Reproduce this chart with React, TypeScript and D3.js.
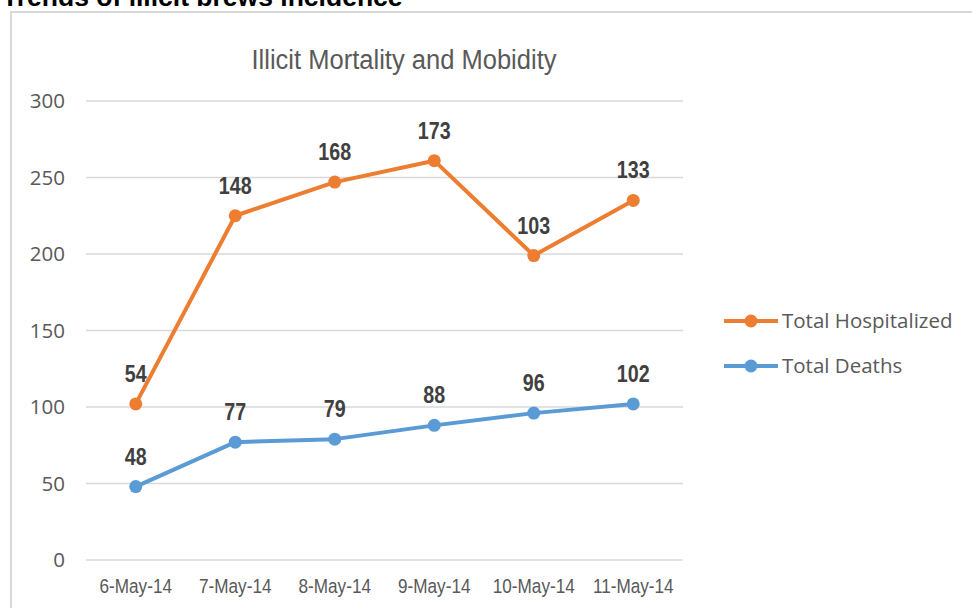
import React from "react";
import * as d3 from "d3";

// chart values
const dates = ["6-May-14", "7-May-14", "8-May-14", "9-May-14", "10-May-14", "11-May-14"];
const totalDeaths = [48, 77, 79, 88, 96, 102];
const totalHospitalized = [54, 148, 168, 173, 103, 133];
const yTicks = [0, 50, 100, 150, 200, 250, 300];

const W = 972;
const H = 608;
const margin = { left: 86, right: 683, top: 101, bottom: 560 };

const orange = "#ED7D31";
const blue = "#5B9BD5";
const sans = "'Liberation Sans', Arial, sans-serif";
const ui = "'Open Sans', 'Noto Sans', sans-serif";

const App = () => {
  const rows = dates.map((d, i) => ({ date: d, deaths: totalDeaths[i], hosp: totalHospitalized[i] }));
  // lines are stacked: hospitalized sits on top of deaths
  const stacked = d3.stack<any>().keys(["deaths", "hosp"])(rows);

  const x = d3.scaleBand().domain(dates).range([margin.left, margin.right]);
  const y = d3.scaleLinear().domain([0, 300]).range([margin.bottom, margin.top]);
  const cx = (d: string) => (x(d) as number) + x.bandwidth() / 2;

  const lineGen = d3
    .line<any>()
    .x((p) => cx(p.data.date))
    .y((p) => y(p[1]));

  const series = [
    { name: "Total Deaths", color: blue, layer: stacked[0], raw: totalDeaths },
    { name: "Total Hospitalized", color: orange, layer: stacked[1], raw: totalHospitalized },
  ];
  const legend = [series[1], series[0]];

  return (
    <svg
      width={W}
      height={H}
      style={{ position: "absolute", left: 0, top: 0, background: "#fff" }}
    >
      <text x={2} y={6} fontFamily={sans} fontWeight="bold" fontSize={26.5} fill="#000">
        Trends of illicit brews incidence
      </text>
      <rect x={11} y={12} width={W + 20} height={H + 20} fill="#fff" stroke="#d9d9d9" strokeWidth={2} />

      <text
        x={404}
        y={69}
        textAnchor="middle"
        fontFamily={sans}
        fontSize={27}
        fill="#595959"
        textLength={305}
        lengthAdjust="spacingAndGlyphs"
      >
        Illicit Mortality and Mobidity
      </text>

      {yTicks.map((t) => (
        <g key={t}>
          <line x1={margin.left} x2={margin.right} y1={y(t)} y2={y(t)} stroke="#d9d9d9" strokeWidth={1.5} />
          <text x={65} y={y(t)} dy="0.36em" textAnchor="end" fontFamily={ui} fontSize={20.5} fill="#595959">
            {t}
          </text>
        </g>
      ))}

      {dates.map((d) => (
        <text
          key={d}
          transform={`translate(${cx(d)}, 593) scale(0.88, 1)`}
          textAnchor="middle"
          fontFamily={sans}
          fontSize={19.5}
          fill="#595959"
        >
          {d}
        </text>
      ))}

      {series.map((s) => (
        <g key={s.name}>
          <path d={lineGen(s.layer as any) || ""} fill="none" stroke={s.color} strokeWidth={4} strokeLinejoin="round" />
          {s.layer.map((p: any, i: number) => (
            <g key={i}>
              <circle cx={cx(p.data.date)} cy={y(p[1])} r={6.5} fill={s.color} />
              <text
                transform={`translate(${cx(p.data.date)}, ${y(p[1]) - 22}) scale(0.82, 1)`}
                textAnchor="middle"
                fontFamily={sans}
                fontWeight="bold"
                fontSize={24}
                fill="#404040"
              >
                {s.raw[i]}
              </text>
            </g>
          ))}
        </g>
      ))}

      {legend.map((s, i) => (
        <g key={s.name} transform={`translate(724, ${321 + i * 45})`}>
          <line x1={0} x2={54} y1={0} y2={0} stroke={s.color} strokeWidth={4} />
          <circle cx={27} cy={0} r={6.5} fill={s.color} />
          <text x={58} y={0} dy="0.35em" fontFamily={ui} fontSize={20.5} fill="#595959">
            {s.name}
          </text>
        </g>
      ))}
    </svg>
  );
};

export default App;
